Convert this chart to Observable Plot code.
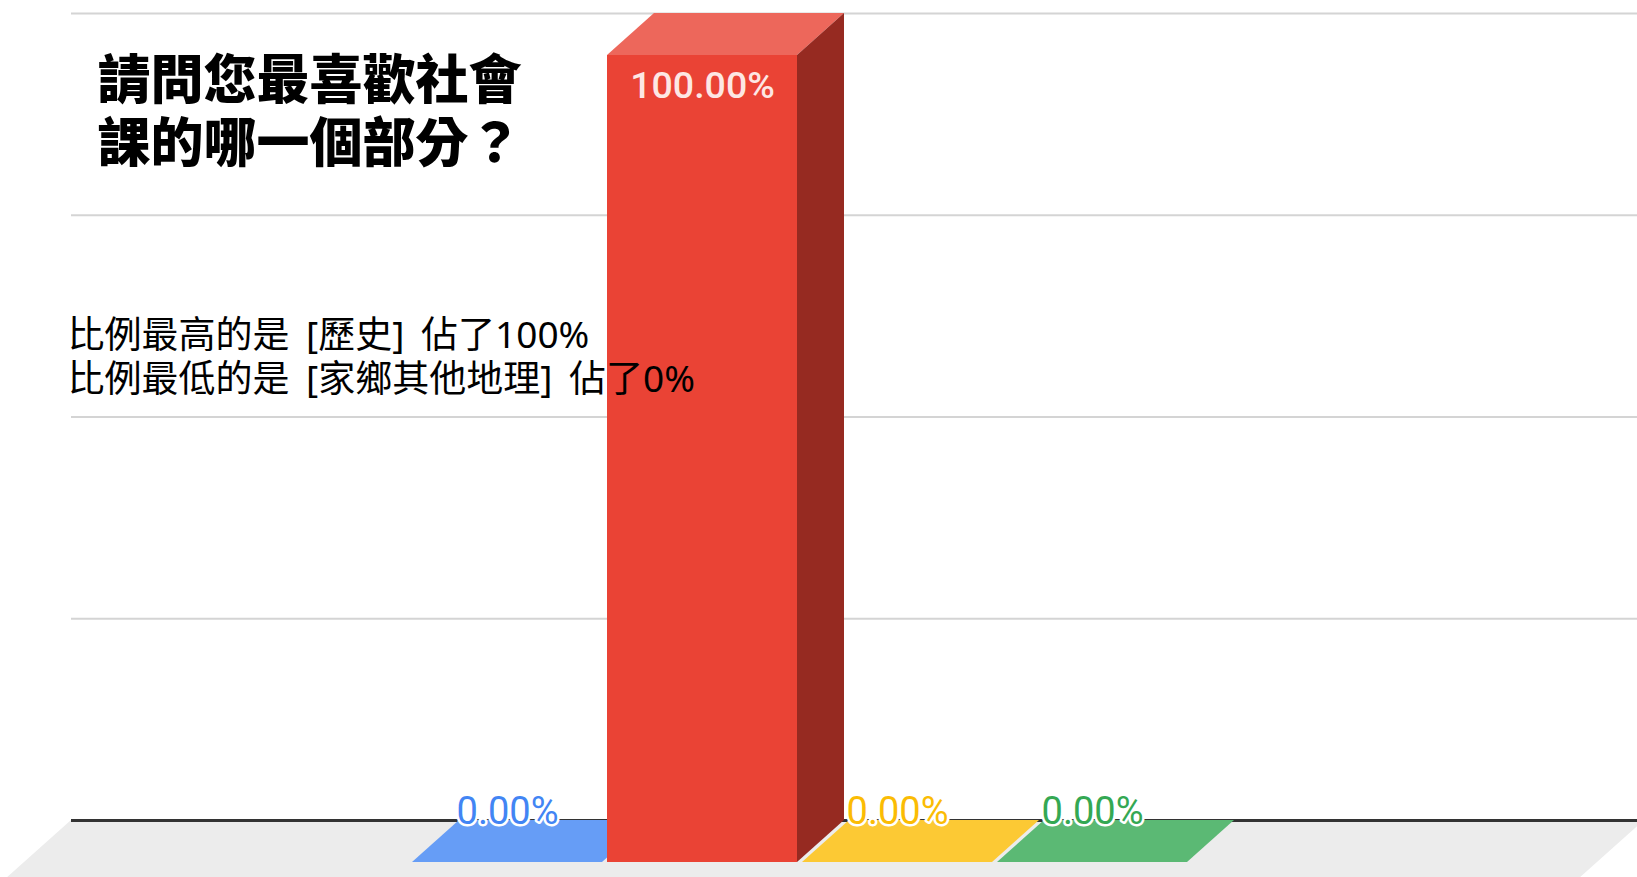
<!DOCTYPE html>
<html>
<head>
<meta charset="utf-8">
<script src="https://cdn.jsdelivr.net/npm/d3@7"></script>
<script src="https://cdn.jsdelivr.net/npm/@observablehq/plot@0.6"></script>
<style>
  html, body { margin: 0; padding: 0; background: #fff; overflow: hidden; }
  #chart svg { display: block; }
  #chart svg text { word-spacing: 7px; }
</style>
</head>
<body>
<div id="chart"></div>
<script>
// ---- data ----
const categories = ["地理", "歷史", "公民", "家鄉其他地理"];
const values = [0, 100, 0, 0];
const valueLabels = ["0.00%", "100.00%", "0.00%", "0.00%"];
const gridTicks = [25, 50, 75, 100];
const titleLines = ["請問您最喜歡社會", "課的哪一個部分？"];
const noteLines = ["比例最高的是 [歷史] 佔了100%", "比例最低的是 [家鄉其他地理] 佔了0%"];

// ---- styles ----
const frontColors = ["#4285f4", "#ea4335", "#fbbc04", "#34a853"];
const topColors = ["#669df6", "#ed675b", "#fcc934", "#5bb974"];
const sideColors = ["#2f62b8", "#962a21", "#b98a00", "#25783b"];
const DX = 47, DY = 42; // 3D depth offset in pixels

const data = categories.map((c, i) => ({category: c, value: values[i], label: valueLabels[i], i}));

// floor parallelogram (back edge at y(0) on the back plane, front edge at the bottom)
function floorMark(index, {y}, values, dims) {
  const yb = y(0) - DY;
  const xl = dims.marginLeft + DX, xr = dims.width - dims.marginRight + DX;
  const k = (dims.height - yb) * DX / DY;
  const g = d3.create("svg:g");
  g.append("polygon")
    .attr("points", [[xl, yb], [xr, yb], [xr - k, dims.height], [xl - k, dims.height]].map(p => p.join(",")).join(" "))
    .attr("fill", "#ececec");
  return g.node();
}

function faceMark(kind) {
  return (index, {x, y}) => {
    const bw = x.bandwidth();
    const g = d3.create("svg:g");
    data.forEach((d) => {
      const x0 = x(d.category), x1 = x0 + bw;
      const yv = y(d.value), yb = y(0);
      const pts = kind === "top"
        ? [[x0, yv], [x0 + DX, yv - DY], [x1 + DX, yv - DY], [x1, yv]]
        : [[x1, yv], [x1 + DX, yv - DY], [x1 + DX, yb - DY], [x1, yb]];
      g.append("polygon")
        .attr("points", pts.map(p => p.join(",")).join(" "))
        .attr("fill", (kind === "top" ? topColors : sideColors)[d.i]);
    });
    return g.node();
  };
}

const chart = Plot.plot({
  width: 1637,
  height: 877,
  marginLeft: 24,
  marginRight: 40,
  marginTop: 55,
  marginBottom: 15,
  x: {domain: categories, range: [412, 1188], paddingInner: 0.025, paddingOuter: 0, axis: null},
  y: {domain: [0, 100], axis: null},
  color: {domain: categories, range: frontColors},
  style: {background: "#fff", overflow: "hidden"},
  marks: [
    floorMark,
    Plot.ruleY(gridTicks, {dx: DX, dy: -DY, stroke: "#d4d4d4", strokeWidth: 2}),
    Plot.ruleY([0], {dx: DX, dy: -DY, stroke: "#333", strokeWidth: 3}),
    faceMark("top"),
    faceMark("side"),
    Plot.barY(data, {x: "category", y: "value", fill: "category"}),
    Plot.text(data.filter(d => d.value > 0), {
      x: "category", y: "value", text: "label",
      lineAnchor: "top", dy: 16,
      fill: "#fde7e4", fontSize: 37.5, fontWeight: 500,
      fontFamily: "Roboto, sans-serif"
    }),
    Plot.text(data.filter(d => d.value === 0), {
      x: "category", y: "value", text: "label",
      lineAnchor: "bottom", dy: -DY + 3,
      fill: "category", stroke: "#fff", strokeWidth: 5, paintOrder: "stroke",
      fontSize: 38, fontFamily: "Roboto, sans-serif"
    }),
    Plot.text([titleLines.join("\n")], {
      frameAnchor: "top-left", textAnchor: "start", lineAnchor: "middle",
      dx: 73, dy: 55, lineHeight: 1.19,
      fontSize: 53, fontWeight: 900, fill: "#000",
      fontFamily: "'Noto Sans CJK TC', sans-serif"
    }),
    Plot.text([noteLines.join("\n")], {
      frameAnchor: "top-left", textAnchor: "start", lineAnchor: "middle",
      dx: 43, dy: 300, lineHeight: 1.19,
      fontSize: 37, fill: "#000", letterSpacing: 0.6,
      fontFamily: "'Noto Sans', 'Noto Sans CJK TC', sans-serif"
    })
  ]
});

document.getElementById("chart").appendChild(chart);
</script>
</body>
</html>
